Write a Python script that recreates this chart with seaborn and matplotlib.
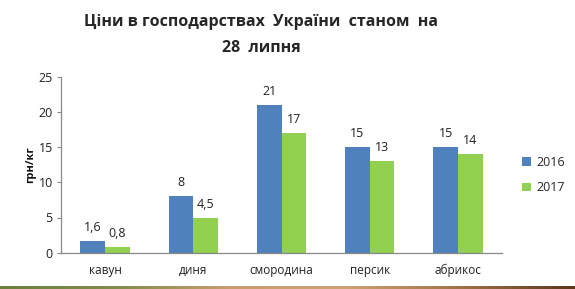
import matplotlib
matplotlib.use("Agg")
import matplotlib.pyplot as plt
import seaborn as sns
import pandas as pd
import numpy as np

categories = ["кавун", "диня", "смородина", "персик", "абрикос"]
years = ["2016", "2017"]
values_2016 = [1.6, 8, 21, 15, 15]
values_2017 = [0.8, 5, 17, 13, 14]
labels_2016 = ["1,6", "8", "21", "15", "15"]
labels_2017 = ["0,8", "4,5", "17", "13", "14"]
yticks = [0, 5, 10, 15, 20, 25]

sns.set_theme(style="white")
plt.rcParams["font.family"] = ["Open Sans", "DejaVu Sans"]

df = pd.DataFrame({
    "cat": categories * 2,
    "year": [years[0]] * 5 + [years[1]] * 5,
    "val": values_2016 + values_2017,
})

fig = plt.figure(figsize=(5.75, 2.89), dpi=100)
ax = fig.add_axes([61 / 575, 1 - 252.7 / 289, (502 - 61) / 575, 176 / 289])

palette = {"2016": "#4F81BD", "2017": "#92D050"}
sns.barplot(data=df, x="cat", y="val", hue="year", palette=palette,
            width=0.56, gap=0, ax=ax, saturation=1, legend=True,
            linewidth=0, edgecolor="none")

# data labels
labs = {"2016": labels_2016, "2017": labels_2017}
for cont, yr in zip(ax.containers, years):
    ax.bar_label(cont, labels=labs[yr], padding=5, fontsize=9, color="#222222")

ax.set_ylim(0, 25)
ax.set_xlim(-0.5, 4.5)
ax.set_yticks(yticks)
ax.set_yticklabels([str(t) for t in yticks])
ax.tick_params(axis="y", length=3, width=0.8, color="#888888", labelsize=9,
               labelcolor="#222222", left=True, pad=3)
ax.tick_params(axis="x", length=0, labelsize=8.5, labelcolor="#222222", pad=8)
ax.set_xlabel("")
ax.set_ylabel("грн/кг", fontsize=8, fontweight="bold", labelpad=2, color="#111111")
for s in ["top", "right"]:
    ax.spines[s].set_visible(False)
for s in ["left", "bottom"]:
    ax.spines[s].set_color("#888888")
    ax.spines[s].set_linewidth(0.9)

leg = ax.legend(loc="center left", bbox_to_anchor=(516 / 575, 1 - 175 / 289),
                bbox_transform=fig.transFigure, frameon=False, fontsize=9,
                handlelength=0.7, handleheight=0.7, handletextpad=0.4,
                labelspacing=1.0, borderpad=0)

fig.text(261 / 575, 1 - 22 / 289, "Ціни в господарствах  України  станом  на",
         ha="center", va="center", fontsize=11.5, fontweight="bold")
fig.text(261 / 575, 1 - 48 / 289, "28  липня",
         ha="center", va="center", fontsize=11.5, fontweight="bold")

# decorative bottom strip
bax = fig.add_axes([0, 0, 1, 3.5 / 289])
grad_colors = np.array([
    [0.42, 0.50, 0.25], [0.50, 0.55, 0.30], [0.78, 0.62, 0.42],
    [0.80, 0.64, 0.45], [0.62, 0.45, 0.28], [0.35, 0.22, 0.12]
])
xs = np.linspace(0, 1, 300)
pos = np.linspace(0, 1, len(grad_colors))
img = np.stack([np.interp(xs, pos, grad_colors[:, i]) for i in range(3)], axis=-1)
bax.imshow(img[None, :, :], aspect="auto", extent=[0, 1, 0, 1])
bax.axis("off")

fig.savefig("out.png", dpi=100)
